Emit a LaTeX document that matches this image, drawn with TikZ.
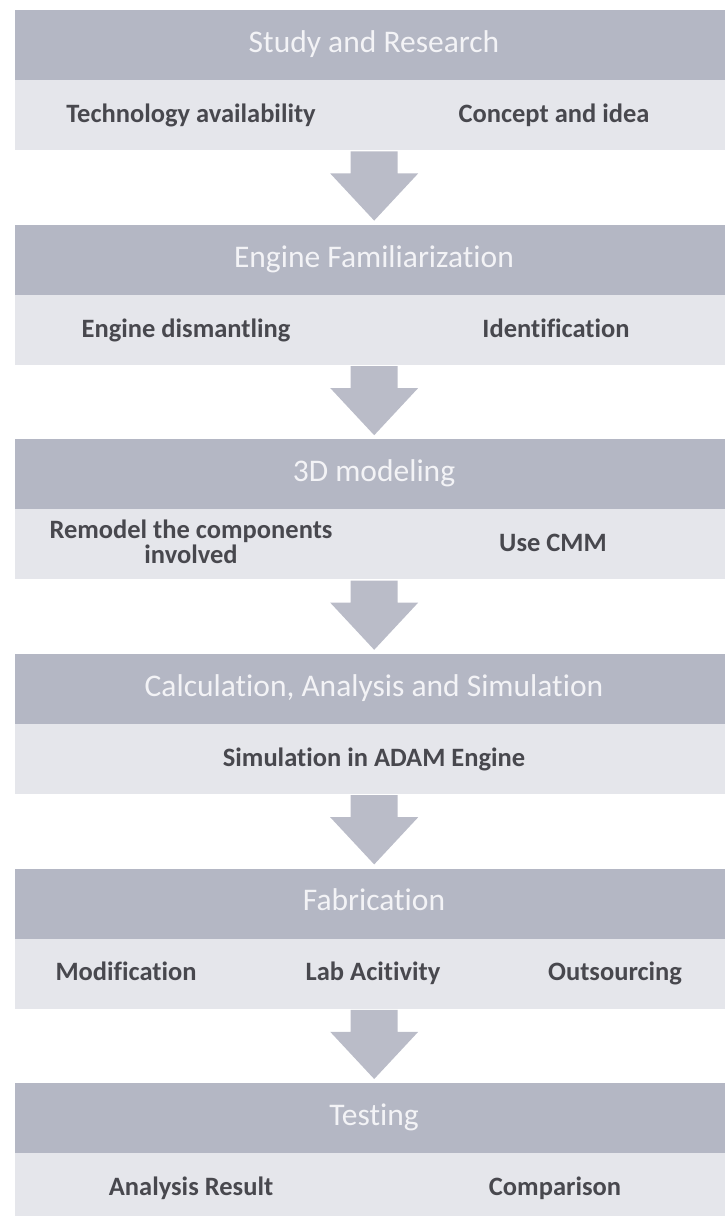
\documentclass[tikz,border=0pt]{standalone}
\usepackage{fontspec}
\setmainfont{Carlito}[Ligatures={NoCommon}]
\usetikzlibrary{calc}
\definecolor{hdr}{RGB}{180,183,196}
\definecolor{bandc}{RGB}{229,230,235}
\definecolor{arr}{RGB}{186,188,200}
\definecolor{htxt}{RGB}{243,243,246}
\definecolor{btxt}{RGB}{72,72,78}
\newcommand{\flowarrow}[2]{%
  \fill[flow] ($(#1.south)+(-23.5,1)$) -- ($(#1.south)+(23.5,1)$) -- ($(#1.south)+(23.5,23)$)
    -- ($(#1.south)+(44,23)$) -- ($(#2.north)+(0,-4)$) -- ($(#1.south)+(-44,23)$)
    -- ($(#1.south)+(-23.5,23)$) -- cycle;}
\begin{document}
\begin{tikzpicture}[x=1pt,y=-1pt,
  header/.style={fill=hdr, minimum width=718pt, minimum height=70pt, inner sep=0pt, anchor=north west},
  htitle/.style={text=htxt, font=\fontsize{31.5}{36}\selectfont, inner sep=0pt, text height=21pt, text depth=6pt},
  bandbox/.style={fill=bandc, minimum width=718pt, minimum height=70pt, inner sep=0pt, anchor=north west},
  itemtext/.style={text=btxt, font=\bfseries\fontsize{26.5}{24.5}\selectfont, align=center, inner sep=0pt},
  item/.style={itemtext, text height=18pt, text depth=5pt},
  flow/.style={fill=arr}]
\useasboundingbox (0,0) rectangle (725,1216);
\clip (0,0) rectangle (725,1216);

% block 1
\node[header] (h1) at (15,10) {};
\node[htitle] (h1t) at (374,45) {Study and Research};
\node[bandbox] (b1) at (15,80) {};
\node[item] (t1a) at (191,116) {Technology availability};
\node[item] (t1b) at (554,116) {Concept and idea};

% block 2
\node[header] (h2) at (15,224.6) {};
\node[htitle] (h2t) at (374,259.6) {Engine Familiarization};
\node[bandbox] (b2) at (15,294.6) {};
\node[item] (t2a) at (186,330.6) {Engine dismantling};
\node[item] (t2b) at (556,330.6) {Identification};

% block 3
\node[header] (h3) at (15,439.2) {};
\node[htitle] (h3t) at (374,474.2) {3D modeling};
\node[bandbox] (b3) at (15,509.2) {};
\node[itemtext] (t3a) at (191,542) {Remodel the components\\involved};
\node[item] (t3b) at (553,545) {Use CMM};

% block 4
\node[header] (h4) at (15,653.8) {};
\node[htitle] (h4t) at (374,688.8) {Calculation, Analysis and Simulation};
\node[bandbox] (b4) at (15,723.8) {};
\node[item] (t4a) at (374,759.8) {Simulation in ADAM Engine};

% block 5
\node[header] (h5) at (15,868.4) {};
\node[htitle] (h5t) at (374,903.4) {Fabrication};
\node[bandbox] (b5) at (15,938.4) {};
\node[item] (t5a) at (126,974.4) {Modification};
\node[item] (t5b) at (373,974.4) {Lab Acitivity};
\node[item] (t5c) at (615,974.4) {Outsourcing};

% block 6
\node[header] (h6) at (15,1083) {};
\node[htitle] (h6t) at (374,1118) {Testing};
\node[bandbox] (b6) at (15,1153) {};
\node[item] (t6a) at (191,1189) {Analysis Result};
\node[item] (t6b) at (555,1189) {Comparison};

% arrows
\flowarrow{b1}{h2}
\flowarrow{b2}{h3}
\flowarrow{b3}{h4}
\flowarrow{b4}{h5}
\flowarrow{b5}{h6}
\end{tikzpicture}
\end{document}
